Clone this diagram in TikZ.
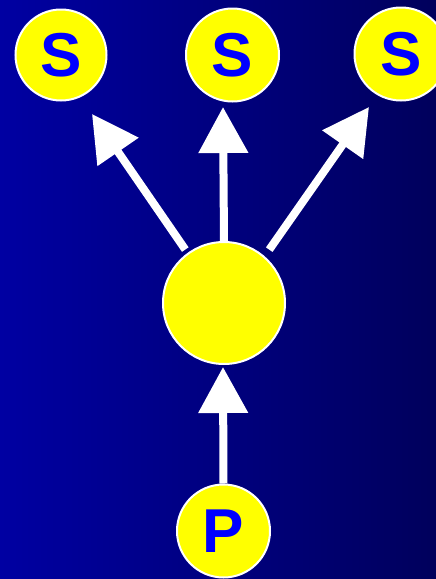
\documentclass[tikz,border=0pt]{standalone}
\usepackage{fontspec}
\setmainfont{Liberation Sans}
\usetikzlibrary{arrows.meta}
\definecolor{bgL}{RGB}{0,0,162}
\definecolor{bgR}{RGB}{0,0,92}
\definecolor{ltr}{RGB}{0,0,255}
\definecolor{ball}{RGB}{255,255,0}
\tikzset{
  ball/.style={circle, fill=ball, draw=white, line width=2pt, inner sep=0pt,
    text=ltr, font=\fontsize{62}{62}\selectfont\bfseries},
  flow/.style={draw=white, line width=8pt,
    -{Triangle[width=48pt,length=46pt,fill=white]}}
}
\begin{document}
\begin{tikzpicture}[x=1pt,y=-1pt]
\useasboundingbox (0,0) rectangle (436,579);
\clip (0,0) rectangle (436,579);
\shade[left color=bgL, right color=bgR] (0,0) rectangle (436,579);
\node[ball, minimum size=91pt] (S1) at (61,55) {S};
\node[ball, minimum size=93pt] (S2) at (232.5,55) {S};
\node[ball, minimum size=93pt] (S3) at (401,54) {S};
\node[ball, minimum size=122pt] (C) at (224,303) {};
\node[ball, minimum size=93pt] (P) at (223.5,531) {P};
\coordinate (tL) at (92,114);
\coordinate (tM) at (223,107);
\coordinate (tR) at (369,107);
\coordinate (tB) at (223,367);
\draw[flow] (P.north) -- (tB);
\draw[flow] (C.north) -- (tM);
\draw[flow, shorten <=4pt] (C.126) -- (tL);
\draw[flow, shorten <=8pt] (C.49) -- (tR);
\end{tikzpicture}
\end{document}
